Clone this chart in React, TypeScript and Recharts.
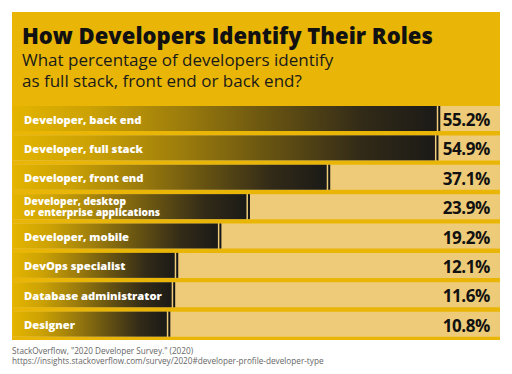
import { BarChart, Bar, XAxis, YAxis, LabelList } from 'recharts';

const roles = [
    'Developer, back end',
    'Developer, full stack',
    'Developer, front end',
    'Developer, desktop\nor enterprise applications',
    'Developer, mobile',
    'DevOps specialist',
    'Database administrator',
    'Designer',
];
const shares = [55.2, 54.9, 37.1, 23.9, 19.2, 12.1, 11.6, 10.8];

// bars start left of zero so the role name fits inside them
const barStart = -14.5;
const axisMax = 65.6;

const data = roles.map((name, i) => ({ name, value: shares[i] }));

const FONT = '"Open Sans", sans-serif';

const BarShape = (props: any) => {
    const { x, y, width, height } = props;
    return (
        <g>
            <rect x={x} y={y} width={width} height={height} fill="url(#barFade)" />
            <rect x={x + width + 1.5} y={y} width={2} height={height} fill="#141414" />
        </g>
    );
};

const renderName = (props: any) => {
    const { x, y, height, value } = props;
    const lines = String(value).split('\n');
    const cy = y + height / 2;
    const lh = 11.5;
    const top = cy - ((lines.length - 1) * lh) / 2;
    const size = lines.length > 1 ? 10.2 : 11.2;
    return (
        <text x={x + 11} y={top} fill="#fff" fontFamily={FONT} fontWeight={800} fontSize={size} dominantBaseline="central">
            {lines.map((l, i) => (
                <tspan key={i} x={x + 11} y={top + i * lh}>{l}</tspan>
            ))}
        </text>
    );
};

const renderValue = (props: any) => {
    const { y, height, value } = props;
    return (
        <text x={490} y={y + height / 2 + 1} fill="#111" fontFamily={FONT} fontWeight={700} fontSize={17} letterSpacing={-0.4} textAnchor="end" dominantBaseline="central">
            {`${Number(value).toFixed(1)}%`}
        </text>
    );
};

export default function App() {
    return (
        <div style={{ position: 'relative', width: 512, height: 374, background: '#fff', fontFamily: FONT }}>
            <style>{`body{margin:0}`}</style>
            <div style={{ position: 'absolute', left: 12, top: 12, width: 488, height: 328, background: '#E9B607' }} />
            <div style={{ position: 'absolute', left: 22, top: 23, fontSize: 22, fontWeight: 800, color: '#111', lineHeight: '24px', whiteSpace: 'nowrap' }}>
                How Developers Identify Their Roles
            </div>
            <div style={{ position: 'absolute', left: 22, top: 49, fontSize: 17, fontWeight: 400, color: '#1a1a1a', lineHeight: '21px', whiteSpace: 'nowrap' }}>
                What percentage of developers identify<br />as full stack, front end or back end?
            </div>
            <div style={{ position: 'absolute', left: 0, top: 0 }}>
                <BarChart
                    width={512}
                    height={374}
                    data={data}
                    layout="vertical"
                    margin={{ top: 104, right: 12, bottom: 35, left: 13 }}
                >
                    <defs>
                        <linearGradient id="barFade" x1="0" y1="0" x2="1" y2="0">
                            <stop offset="0%" stopColor="#E4B400" />
                            <stop offset="18%" stopColor="#CCA204" />
                            <stop offset="40%" stopColor="#9C7C0C" />
                            <stop offset="62%" stopColor="#645112" />
                            <stop offset="82%" stopColor="#332b18" />
                            <stop offset="100%" stopColor="#1b1a17" />
                        </linearGradient>
                    </defs>
                    <XAxis type="number" domain={[barStart, axisMax]} hide allowDataOverflow />
                    <YAxis type="category" dataKey="name" hide />
                    <Bar
                        dataKey={(d: any) => [barStart, d.value]}
                        barSize={25}
                        background={{ fill: '#EDCB78' }}
                        shape={BarShape}
                        isAnimationActive={false}
                    >
                        <LabelList dataKey="name" content={renderName} />
                        <LabelList dataKey="value" content={renderValue} />
                    </Bar>
                </BarChart>
            </div>
            <div style={{ position: 'absolute', left: 12, top: 346, fontSize: 8.2, color: '#666', lineHeight: '10px', whiteSpace: 'nowrap' }}>
                StackOverflow, "2020 Developer Survey." (2020)<br />
                https://insights.stackoverflow.com/survey/2020#developer-profile-developer-type
            </div>
        </div>
    );
}
